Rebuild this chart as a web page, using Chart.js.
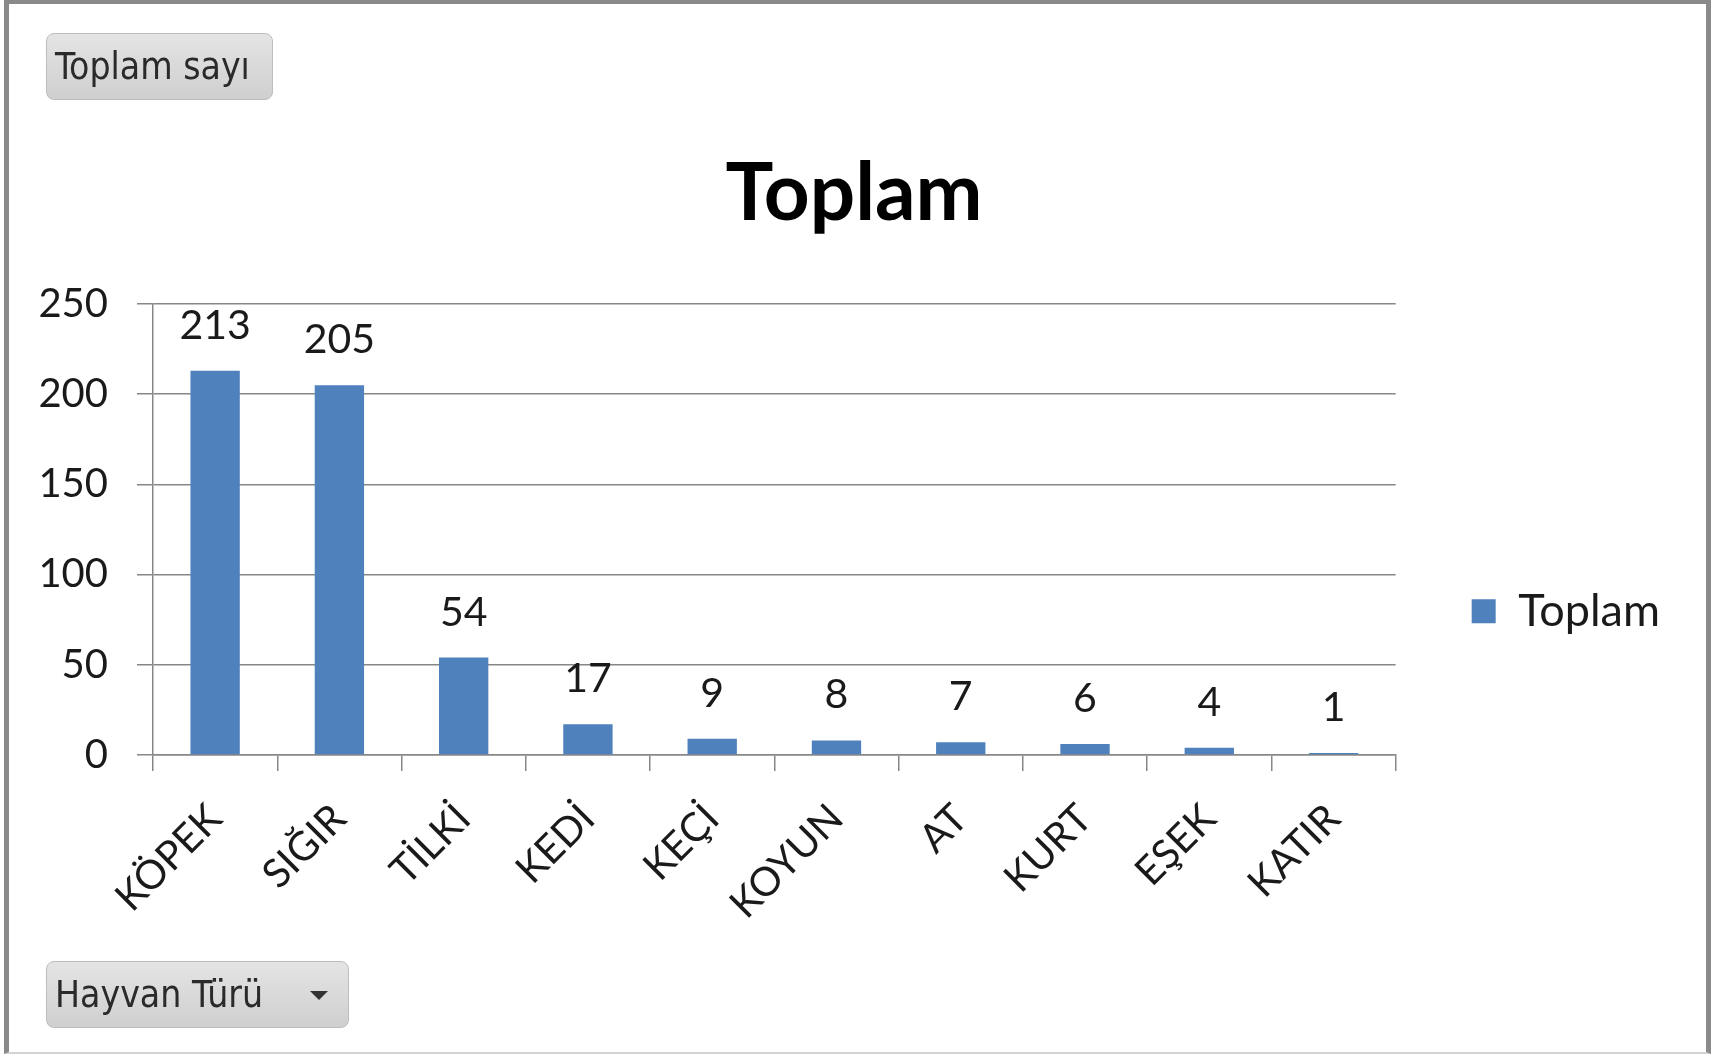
<!DOCTYPE html>
<html>
<head>
<meta charset="utf-8">
<script src="https://cdn.jsdelivr.net/npm/chart.js@4/dist/chart.umd.min.js"></script>
<style>
  html, body { margin: 0; padding: 0; background: #fff; width: 1721px; height: 1054px; overflow: hidden; }
  #frame { position: absolute; left: 4px; top: 0px; width: 1697px; height: 1048px;
    border-left: 5px solid #8a8a8a; border-right: 5px solid #8a8a8a; border-top: 4px solid #8a8a8a;
    border-bottom: 2px solid #d4d4d4; box-sizing: content-box; }
  #chartWrap { position: absolute; left: 0; top: 0; width: 1721px; height: 1054px; }
  .btn { position: absolute; box-sizing: border-box; border: 1px solid #bdbdbd; border-radius: 8px;
    background: linear-gradient(#e4e4e4, #cfcfcf); color: #2a2a2a;
    font-family: "DejaVu Sans Condensed", "DejaVu Sans", sans-serif; font-stretch: condensed;
    font-size: 37px; line-height: 1; padding-left: 8px; display: flex; align-items: center; }
  #b1 { left: 46px; top: 33px; width: 227px; height: 67px; }
  #b2 { left: 46px; top: 961px; width: 303px; height: 67px; }
  #arrow { position: absolute; left: 310px; top: 991px; width: 0; height: 0;
    border-left: 9px solid transparent; border-right: 9px solid transparent; border-top: 9px solid #333; }
</style>
</head>
<body>
<div id="frame"></div>
<div id="chartWrap"><canvas id="c" width="1721" height="1054"></canvas></div>
<div class="btn" id="b1">Toplam sayı</div>
<div class="btn" id="b2">Hayvan Türü</div>
<div id="arrow"></div>
<script>
const categories = ["KÖPEK", "SIĞIR", "TİLKİ", "KEDİ", "KEÇİ", "KOYUN", "AT", "KURT", "EŞEK", "KATIR"];
const values = [213, 205, 54, 17, 9, 8, 7, 6, 4, 1];
const seriesName = "Toplam";
const chartTitle = "Toplam";
const yTicks = [0, 50, 100, 150, 200, 250];

const FONT = "Lato, 'Open Sans', sans-serif";
const gridColor = "#878787";

const dataLabelPlugin = {
  id: "dataLabels",
  afterDatasetsDraw(chart) {
    const ctx = chart.ctx;
    const meta = chart.getDatasetMeta(0);
    ctx.save();
    ctx.font = "41px " + FONT;
    ctx.fillStyle = "#1a1a1a";
    ctx.textAlign = "center";
    ctx.textBaseline = "alphabetic";
    meta.data.forEach((bar, i) => {
      ctx.fillText(String(chart.data.datasets[0].data[i]), bar.x, bar.y - 32);
    });
    ctx.restore();
  }
};

new Chart(document.getElementById("c"), {
  type: "bar",
  data: {
    labels: categories,
    datasets: [{
      label: seriesName,
      data: values,
      backgroundColor: "#4f81bd",
      borderWidth: 0,
      barPercentage: 0.397,
      categoryPercentage: 1.0
    }]
  },
  options: {
    responsive: false,
    animation: false,
    devicePixelRatio: 1,
    layout: { padding: { left: 38, right: 51, top: 0, bottom: 102 } },
    plugins: {
      title: {
        display: true,
        text: chartTitle,
        color: "#000",
        font: { family: FONT, size: 80, weight: "bold", lineHeight: 1.2 },
        padding: { top: 146, bottom: 62 }
      },
      legend: {
        display: true,
        position: "right",
        title: { display: true, text: "", font: { size: 12, lineHeight: 1.2 }, padding: { top: 0, bottom: 256 } },
        labels: {
          boxWidth: 24, boxHeight: 24, padding: 76,
          color: "#1a1a1a",
          font: { family: FONT, size: 45 }
        }
      },
      tooltip: { enabled: false }
    },
    scales: {
      x: {
        grid: { display: true, drawOnChartArea: false, drawTicks: true, tickLength: 16, color: gridColor, lineWidth: 1.5, offset: true },
        border: { display: true, color: gridColor, width: 1.5 },
        ticks: { color: "#1a1a1a", font: { family: FONT, size: 40 }, maxRotation: 45, minRotation: 45, padding: 24, autoSkip: false }
      },
      y: {
        min: 0, max: 250,
        afterBuildTicks(scale) { scale.ticks = yTicks.map(v => ({ value: v })); },
        afterFit(scale) { scale.width = 115; },
        grid: { color: gridColor, lineWidth: 1.5, tickLength: 16, drawTicks: true },
        border: { display: true, color: gridColor, width: 1.5 },
        ticks: { color: "#1a1a1a", font: { family: FONT, size: 40 }, padding: 29 }
      }
    }
  },
  plugins: [dataLabelPlugin]
});
</script>
</body>
</html>
